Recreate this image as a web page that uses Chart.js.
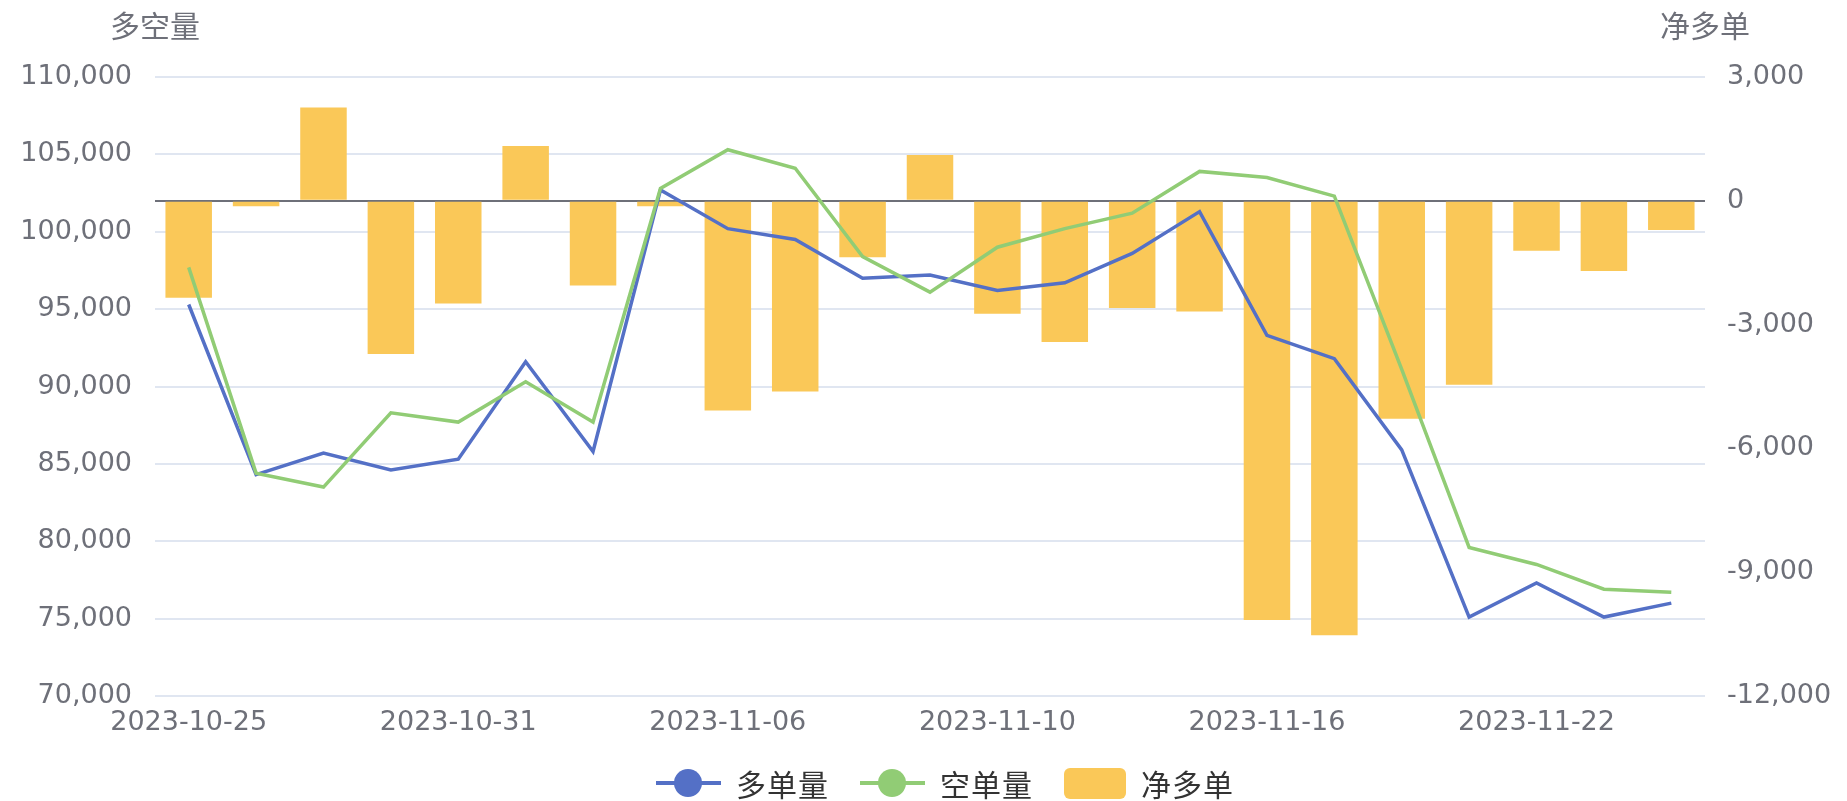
<!DOCTYPE html>
<html>
<head>
<meta charset="utf-8">
<title>多空量</title>
<script src="https://cdn.jsdelivr.net/npm/chart.js@4.4.1/dist/chart.umd.min.js"></script>
<style>
    body { margin: 0; background: #fff; }
    #wrap { position: relative; width: 1847px; height: 801px; }
    #legend {
        position: absolute; left: 656px; top: 767px; height: 32px;
        display: flex; align-items: center;
        font-family: "Noto Sans CJK SC", sans-serif; font-size: 30px; color: #333;
    }
    .item { display: flex; align-items: center; margin-right: 30px; }
    .item span.txt { margin-left: 15px; min-width: 94px; letter-spacing: 1px; }
    .lineIcon { position: relative; width: 65px; height: 30px; }
    .lineIcon i { position: absolute; left: 0; top: 13px; width: 65px; height: 4px; }
    .lineIcon b { position: absolute; left: 18px; top: 1px; width: 28px; height: 28px; border-radius: 50%; }
    .rectIcon { width: 62px; height: 31px; border-radius: 6px; }
</style>
</head>
<body>
<div id="wrap">
    <canvas id="chart"></canvas>
    <div id="legend"></div>
</div>
<script>
// trading days
const dates = ['2023-10-25', '2023-10-26', '2023-10-27', '2023-10-30', '2023-10-31',
               '2023-11-01', '2023-11-02', '2023-11-03', '2023-11-06', '2023-11-07',
               '2023-11-08', '2023-11-09', '2023-11-10', '2023-11-13', '2023-11-14',
               '2023-11-15', '2023-11-16', '2023-11-17', '2023-11-20', '2023-11-21',
               '2023-11-22', '2023-11-23', '2023-11-24'];
// 多单量
const longVol = [95300, 84300, 85700, 84600, 85300, 91600, 85800, 102700, 100200, 99500,
                 97000, 97200, 96200, 96700, 98600, 101300, 93300, 91800, 85900, 75100,
                 77300, 75100, 76000];
// 空单量
const shortVol = [97700, 84400, 83500, 88300, 87700, 90300, 87700, 102800, 105300, 104100,
                  98400, 96100, 99000, 100200, 101200, 103900, 103500, 102300, 91100, 79600,
                  78500, 76900, 76700];
// 净多单
const netLong = [-2350, -130, 2260, -3710, -2490, 1330, -2050, -130, -5080, -4620,
                 -1370, 1110, -2740, -3420, -2600, -2680, -10160, -10530, -5280, -4460,
                 -1210, -1700, -710];

const seriesNames = ['多单量', '空单量', '净多单'];
const leftTitle = '多空量';
const rightTitle = '净多单';
const colors = ['#5470c6', '#91cc75', '#fac858'];
const textColor = '#6E7079';

Chart.defaults.font.family = '"DejaVu Sans", "Noto Sans CJK SC", sans-serif';
Chart.defaults.font.size = 27;
Chart.defaults.color = textColor;

function fmt(v)
{
    return Number(v).toLocaleString('en-US');
}

// axis names sit horizontally above each y axis
const axisTitles = {
    id: 'axisTitles',
    afterDraw(chart) {
        const { ctx, chartArea } = chart;
        ctx.save();
        ctx.font = '30px "Noto Sans CJK SC"';
        ctx.fillStyle = textColor;
        ctx.textAlign = 'center';
        ctx.textBaseline = 'middle';
        ctx.fillText(leftTitle, chartArea.left, 26);
        ctx.fillText(rightTitle, chartArea.right, 26);
        ctx.restore();
    }
};

const ctx = document.getElementById('chart');
new Chart(ctx, {
    type: 'bar',
    data: {
        labels: dates,
        datasets: [{
            type: 'line',
            label: seriesNames[0],
            data: longVol,
            yAxisID: 'y',
            borderColor: colors[0],
            backgroundColor: colors[0],
            borderWidth: 3.5,
            pointRadius: 0,
            tension: 0,
            order: 2
        }, {
            type: 'line',
            label: seriesNames[1],
            data: shortVol,
            yAxisID: 'y',
            borderColor: colors[1],
            backgroundColor: colors[1],
            borderWidth: 3.5,
            pointRadius: 0,
            tension: 0,
            order: 1
        }, {
            type: 'bar',
            label: seriesNames[2],
            data: netLong,
            yAxisID: 'y1',
            backgroundColor: colors[2],
            barPercentage: 0.69,
            categoryPercentage: 1.0,
            order: 3
        }]
    },
    options: {
        responsive: true,
        maintainAspectRatio: false,
        animation: false,
        layout: { padding: { top: 77, left: 0, right: 0, bottom: 55 } },
        plugins: {
            legend: { display: false },
            tooltip: { enabled: false }
        },
        scales: {
            x: {
                grid: { display: false, drawTicks: false },
                border: { display: false },
                ticks: {
                    autoSkip: false,
                    maxRotation: 0,
                    padding: 11,
                    callback: function(val, index) {
                        return index % 4 === 0 ? dates[index] : '';
                    }
                },
                afterFit: function(scale) { scale.height = 50; }
            },
            y: {
                position: 'left',
                min: 70000,
                max: 110000,
                grid: { color: '#E0E6F1', lineWidth: 2, drawTicks: false },
                border: { display: false },
                ticks: { stepSize: 5000, padding: 23, callback: fmt },
                afterFit: function(scale) { scale.width = 155; }
            },
            y1: {
                position: 'right',
                min: -12000,
                max: 3000,
                grid: {
                    drawTicks: false,
                    lineWidth: 2,
                    color: function(c) { return c.tick && c.tick.value === 0 ? textColor : 'rgba(0,0,0,0)'; }
                },
                border: { display: false },
                ticks: { stepSize: 3000, padding: 22, callback: fmt },
                afterFit: function(scale) { scale.width = 142; }
            }
        }
    },
    plugins: [axisTitles]
});

// html legend
const legend = document.getElementById('legend');
seriesNames.forEach(function(name, i) {
    const item = document.createElement('div');
    item.className = 'item';
    let icon;
    if (i < 2) {
        icon = '<div class="lineIcon"><i style="background:' + colors[i] + '"></i><b style="background:' + colors[i] + '"></b></div>';
    } else {
        icon = '<div class="rectIcon" style="background:' + colors[i] + '"></div>';
    }
    item.innerHTML = icon + '<span class="txt">' + name + '</span>';
    legend.appendChild(item);
});
</script>
</body>
</html>
